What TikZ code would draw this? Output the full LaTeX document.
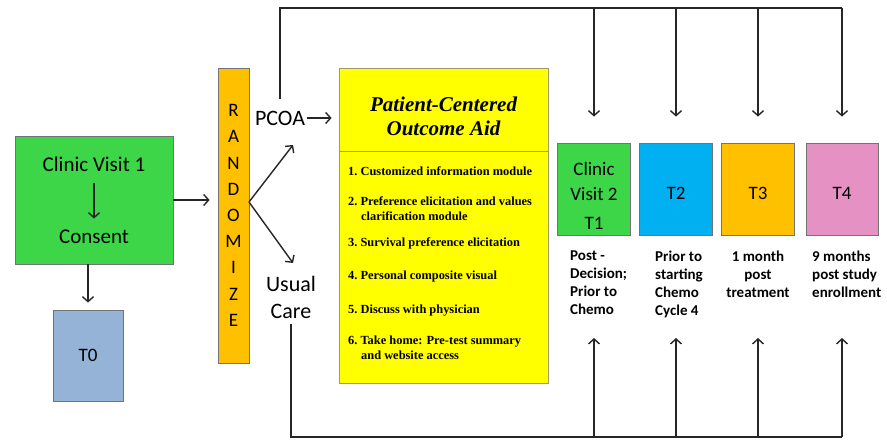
\documentclass[tikz,border=0pt]{standalone}
\usepackage{fontspec}
\setmainfont{Carlito}
\newfontfamily\aidfont{Liberation Serif}
\usetikzlibrary{arrows.meta,positioning}
\definecolor{visitgreen}{RGB}{61,214,72}
\definecolor{baseblue}{RGB}{149,179,215}
\definecolor{amber}{RGB}{255,192,0}
\definecolor{skyblue}{RGB}{0,176,240}
\definecolor{rosepink}{RGB}{230,145,195}
\definecolor{aidyellow}{RGB}{255,255,0}

\begin{document}
\begin{tikzpicture}[
  x=1pt, y=-1pt,
  >={Straight Barb[length=5pt,width=11pt,line width=1.4pt]},
  box/.style={draw=black!55, line width=0.8pt, inner sep=0pt, align=center},
  tbox/.style={box, minimum width=73pt, minimum height=92pt,
               font=\fontsize{19}{25}\selectfont, text height=21pt, text depth=0pt},
  aidbox/.style={box, draw=black!45!olive!60, fill=aidyellow, minimum width=209pt},
  aiditem/.style={anchor=west, align=left, inner sep=0pt,
                  font=\aidfont\bfseries\fontsize{12.4}{15}\selectfont},
  when/.style={inner sep=0pt, anchor=north west, align=left,
               font=\bfseries\fontsize{15}{18}\selectfont},
  line/.style={line width=1.4pt, draw=black!85},
  arr/.style={line, ->}
]
  \useasboundingbox (0,0) rectangle (887,441);

  \node[box, fill=visitgreen, minimum width=158pt, minimum height=128pt]
    (visit1) at (94,200) {};
  \node[font=\fontsize{21}{24}\selectfont] (visittxt) at (94,164) {Clinic Visit 1};
  \node[font=\fontsize{21}{24}\selectfont] (consent) at (94,237) {Consent};
  \node[box, fill=baseblue, minimum width=70pt, minimum height=91pt,
        font=\fontsize{19}{22}\selectfont] (t0) at (88,355.5) {T0};

  \node[box, fill=amber, minimum width=31pt, minimum height=295pt,
        font=\fontsize{19}{26.2}\selectfont] (randomize) at (233.5,215.5)
    {R\\A\\N\\D\\O\\M\\I\\Z\\E};
  \coordinate (fork) at (249,202);
  \coordinate (pcoatip) at (293,145);
  \coordinate (usualtip) at (293,263);
  \node[inner sep=2pt, font=\fontsize{22}{24}\selectfont] (pcoa) at (280,118) {PCOA};
  \node[inner sep=2pt, align=center, font=\fontsize{22}{27}\selectfont]
    (usual) at (291,297) {Usual\\Care};

  \node[aidbox, minimum height=83pt] (aidtitle) at (443.5,109.5) {};
  \node[align=center, font=\aidfont\bfseries\itshape\fontsize{21}{24}\selectfont]
    (aidhead) at (443.5,116) {Patient-Centered\\Outcome Aid};
  \node[aidbox, minimum height=232pt, below=0pt of aidtitle] (aidlist) {};
  \node[aiditem] (item1) at (348,171) {1.~Customized information module};
  \node[aiditem] (item2) at (348,208.5)
    {2.~Preference elicitation and values\\\hspace*{13pt}clarification module};
  \node[aiditem] (item3) at (348,243) {3.~Survival preference elicitation};
  \node[aiditem] (item4) at (348,277) {4.~Personal composite visual};
  \node[aiditem] (item5) at (348,311) {5.~Discuss with physician};
  \node[aiditem] (item6) at (348,347.5)
    {6.~Take home: Pre-test summary\\\hspace*{13pt}and website access};

  \node[tbox, fill=visitgreen] (t1) at (594,189) {};
  \node[align=center, font=\fontsize{19}{25}\selectfont] (t1txt) at (594,196)
    {Clinic\\Visit 2\\[4pt]T1};
  \node[tbox, fill=skyblue] (t2) at (676,189) {T2};
  \node[tbox, fill=amber] (t3) at (758,189) {T3};
  \node[tbox, fill=rosepink, minimum width=72pt] (t4) at (842,189) {T4};

  \node[when] (when1) at (570,251) {Post -\\Decision;\\Prior to\\Chemo};
  \node[when] (when2) at (655,251) {Prior to\\starting\\Chemo\\Cycle 4};
  \node[when, anchor=north, align=center] (when3) at (758,251) {1 month\\post\\treatment};
  \node[when] (when4) at (812,251) {9 months\\post study\\enrollment};

  \coordinate (topbar) at (0,8);
  \coordinate (botbar) at (0,437);
  \coordinate (uptip) at (0,338);

  \draw[arr, shorten <=8pt, shorten >=8pt] (visittxt) -- (consent);
  \draw[arr, shorten >=7pt] (t0.north |- visit1.south) -- (t0.north);
  \draw[arr, shorten >=8pt] (visit1.east) -- (visit1.east -| randomize.west);
  \draw[arr] (fork) -- (pcoatip);
  \draw[arr] (fork) -- (usualtip);
  \draw[arr, shorten >=7pt] (pcoa.east) -- (pcoa.east -| aidtitle.west);
  \draw[line, shorten <=10pt] (pcoa.north) |- (t4.north |- topbar);
  \draw[line, shorten <=4pt] (usual.south) |- (t4.south |- botbar);
  \foreach \tp in {t1,t2,t3,t4} {
    \draw[arr, shorten >=26pt] (\tp.north |- topbar) -- (\tp.north);
    \draw[arr] (\tp.south |- botbar) -- (\tp.south |- uptip);
  }
\end{tikzpicture}
\end{document}
